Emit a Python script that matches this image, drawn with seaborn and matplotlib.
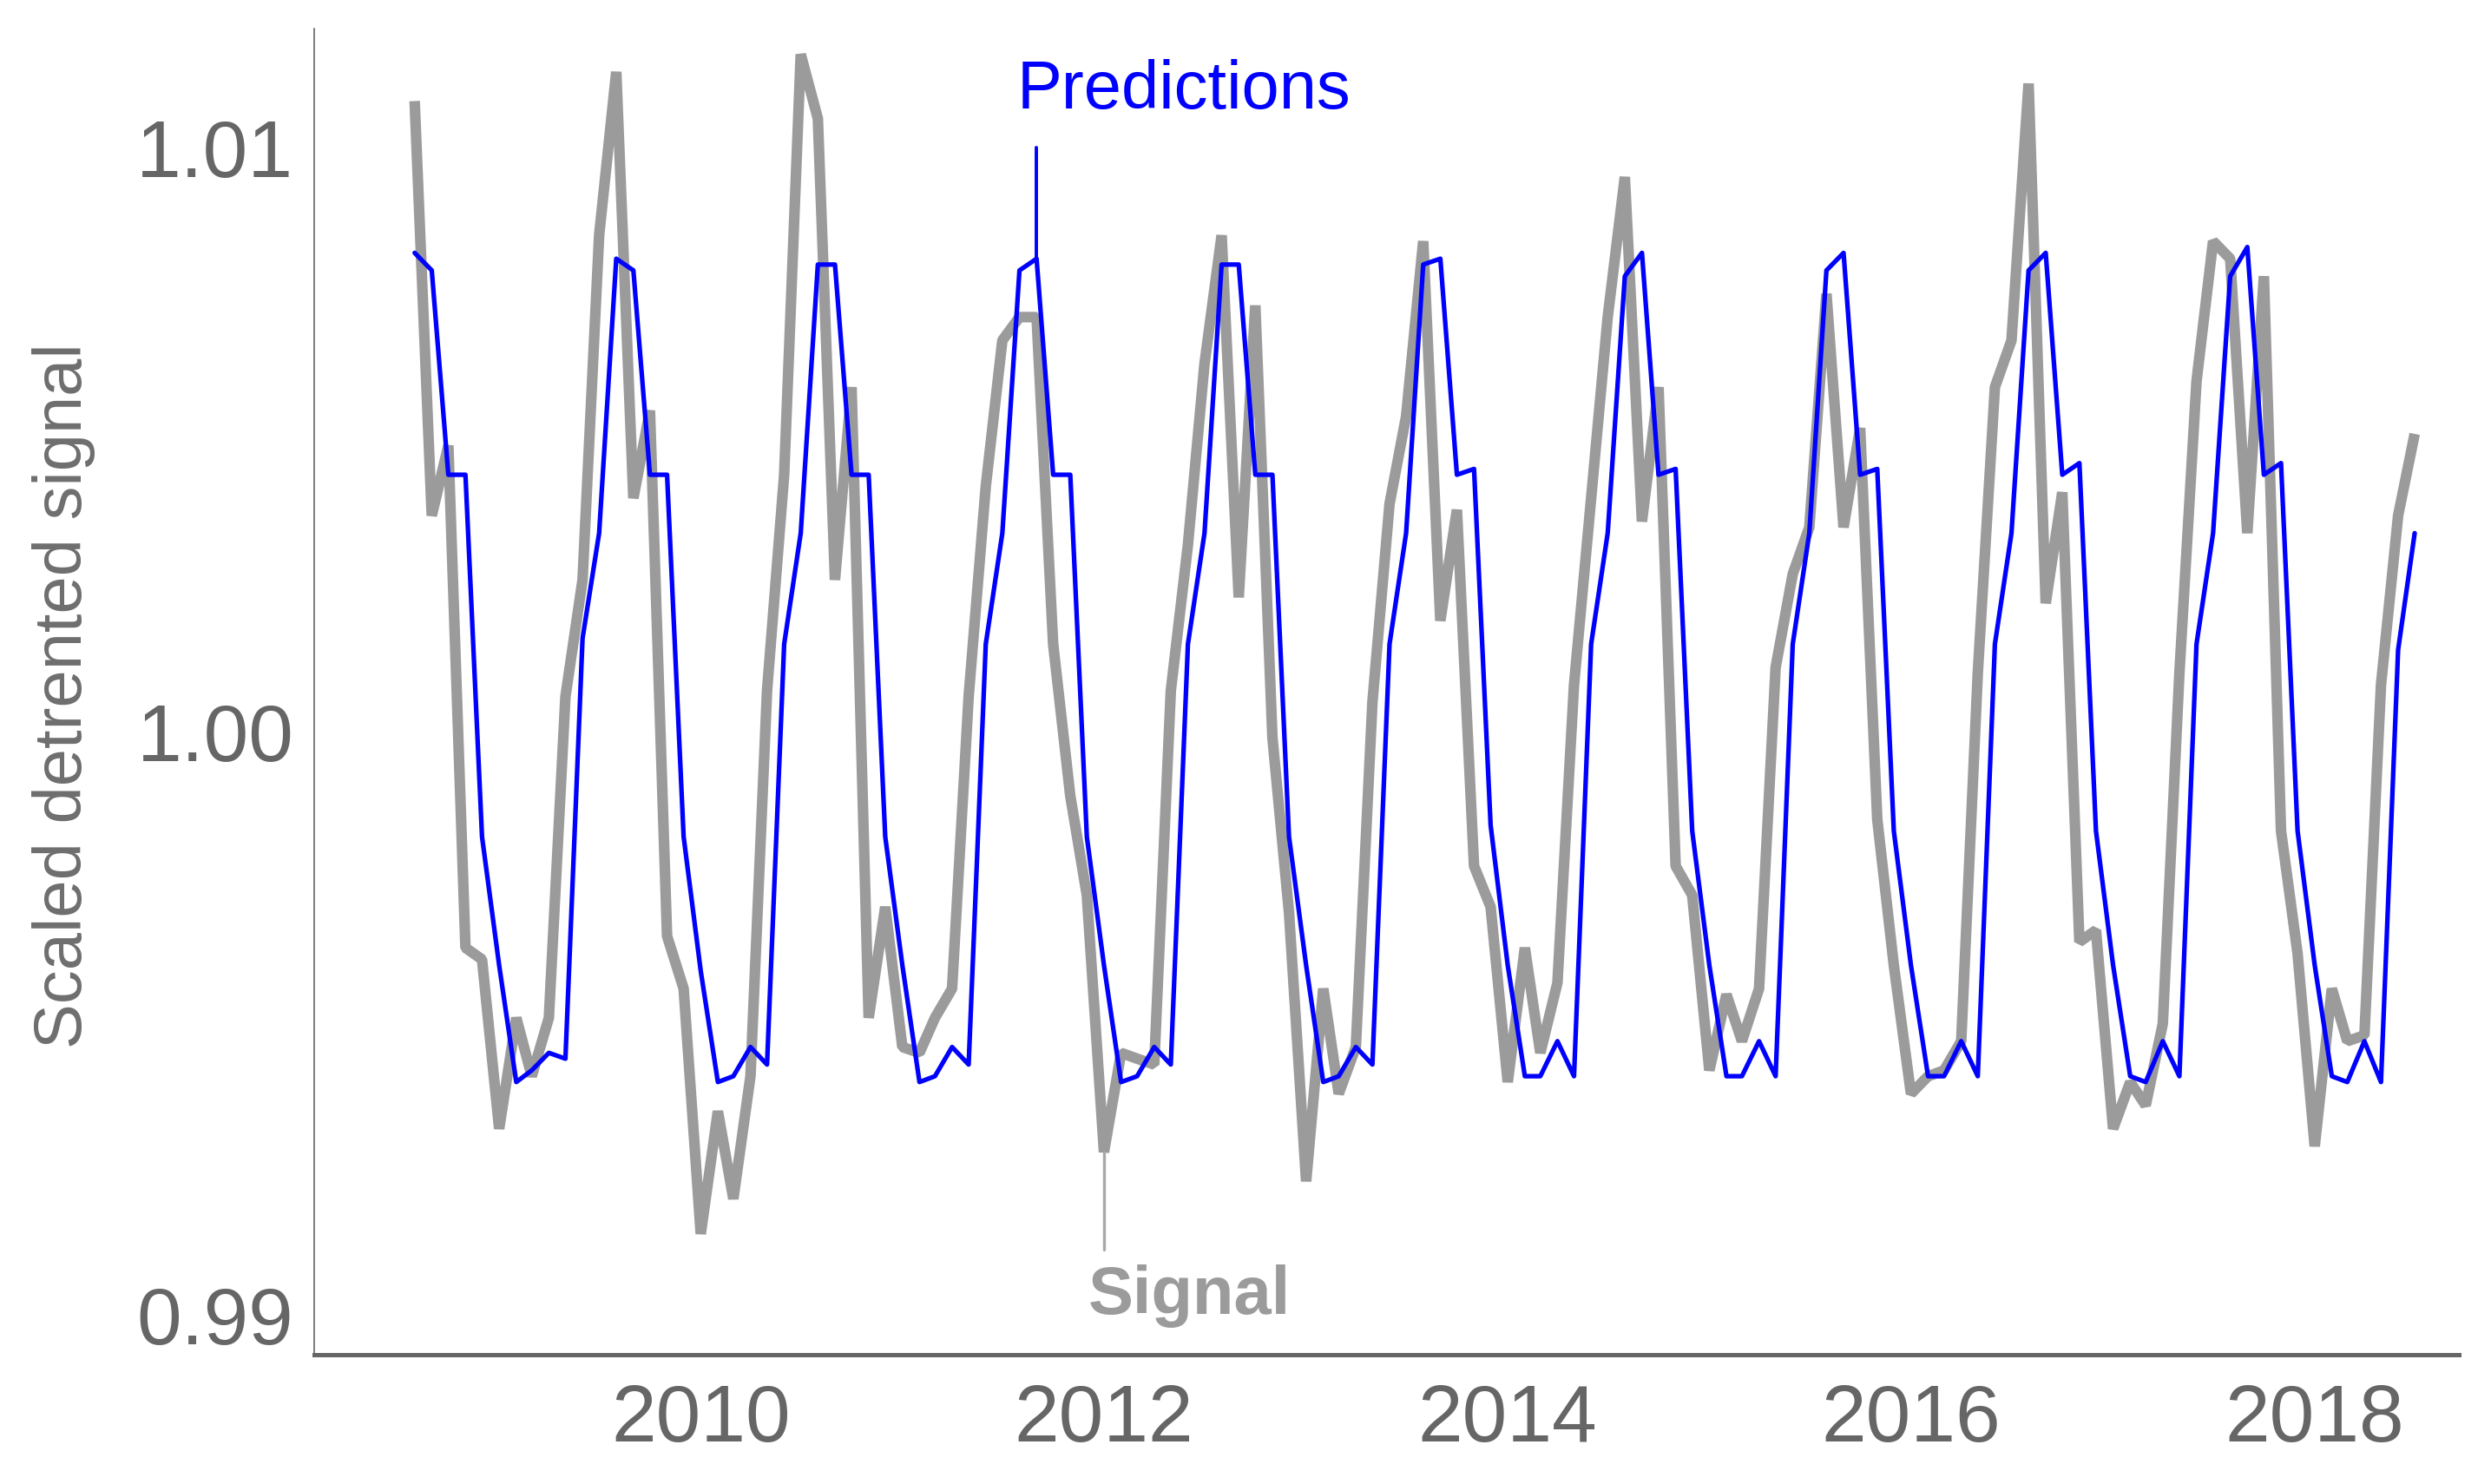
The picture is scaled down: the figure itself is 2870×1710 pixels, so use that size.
import numpy as np
import pandas as pd
import matplotlib
matplotlib.use("Agg")
import matplotlib.pyplot as plt
import matplotlib.dates as mdates
import seaborn as sns

# ---------------- data (monthly, Aug 2008 .. Jul 2018) ----------------
start_month = "2008-08-01"
n_months = 120

signal = [
    1.0108, 1.0037, 1.0049, 0.9963, 0.9961,                                              # 2008 Aug-Dec
    0.9932, 0.9951, 0.9941, 0.9951, 1.0006, 1.0026, 1.0085, 1.0113, 1.0040, 1.0055, 0.9965, 0.9956,  # 2009
    0.9914, 0.9935, 0.9920, 0.9941, 1.0007, 1.0044, 1.0116, 1.0105, 1.0026, 1.0059, 0.9951, 0.9970,  # 2010
    0.9946, 0.9945, 0.9951, 0.9956, 1.0006, 1.0042, 1.0067, 1.0071, 1.0071, 1.0015, 0.9989, 0.9972,  # 2011
    0.9928, 0.9945, 0.9944, 0.9943, 1.0007, 1.0032, 1.0063, 1.0085, 1.0023, 1.0073, 0.9999, 0.9969,  # 2012
    0.9923, 0.9956, 0.9938, 0.9946, 1.0005, 1.0039, 1.0054, 1.0084, 1.0019, 1.0038, 0.9977, 0.9970,  # 2013
    0.9940, 0.9963, 0.9945, 0.9957, 1.0008, 1.0040, 1.0071, 1.0095, 1.0036, 1.0059, 0.9977, 0.9972,  # 2014
    0.9942, 0.9955, 0.9947, 0.9956, 1.0011, 1.0027, 1.0035, 1.0075, 1.0035, 1.0052, 0.9985, 0.9960,  # 2015
    0.9938, 0.9941, 0.9942, 0.9947, 1.0010, 1.0059, 1.0067, 1.0111, 1.0022, 1.0041, 0.9964, 0.9966,  # 2016
    0.9932, 0.9940, 0.9936, 0.9950, 1.0010, 1.0060, 1.0084, 1.0081, 1.0034, 1.0078, 0.9983, 0.9962,  # 2017
    0.9929, 0.9956, 0.9947, 0.9948, 1.0008, 1.0037, 1.0051,                              # 2018 Jan-Jul
]

predictions = [
    1.0082, 1.0079, 1.0044, 1.0044, 0.9982,                                              # 2008 Aug-Dec
    0.9960, 0.9940, 0.9942, 0.9945, 0.9944, 1.0016, 1.0034, 1.0081, 1.0079, 1.0044, 1.0044, 0.9982,  # 2009
    0.9959, 0.9940, 0.9941, 0.9946, 0.9943, 1.0015, 1.0034, 1.0080, 1.0080, 1.0044, 1.0044, 0.9982,  # 2010
    0.9960, 0.9940, 0.9941, 0.9946, 0.9943, 1.0015, 1.0034, 1.0079, 1.0081, 1.0044, 1.0044, 0.9982,  # 2011
    0.9960, 0.9940, 0.9941, 0.9946, 0.9943, 1.0015, 1.0034, 1.0080, 1.0080, 1.0044, 1.0044, 0.9982,  # 2012
    0.9960, 0.9940, 0.9941, 0.9946, 0.9943, 1.0015, 1.0034, 1.0080, 1.0081, 1.0044, 1.0045, 0.9984,  # 2013
    0.9960, 0.9941, 0.9941, 0.9947, 0.9941, 1.0015, 1.0034, 1.0078, 1.0082, 1.0044, 1.0045, 0.9983,  # 2014
    0.9960, 0.9941, 0.9941, 0.9947, 0.9941, 1.0015, 1.0034, 1.0079, 1.0082, 1.0044, 1.0045, 0.9983,  # 2015
    0.9960, 0.9941, 0.9941, 0.9947, 0.9941, 1.0015, 1.0034, 1.0079, 1.0082, 1.0044, 1.0046, 0.9983,  # 2016
    0.9960, 0.9941, 0.9940, 0.9947, 0.9941, 1.0015, 1.0034, 1.0078, 1.0083, 1.0044, 1.0046, 0.9983,  # 2017
    0.9960, 0.9941, 0.9940, 0.9947, 0.9940, 1.0014, 1.0034,                              # 2018 Jan-Jul
]

y_ticks = [0.99, 1.00, 1.01]
y_tick_labels = ["0.99", "1.00", "1.01"]
label_pred = "Predictions"
label_sig = "Signal"
y_label = "Scaled detrented signal"

dates = pd.date_range(start_month, periods=n_months, freq="MS")
df = pd.DataFrame({"date": dates, "Signal": signal, "Predictions": predictions})

# ---------------- style ----------------
sns.set_style("white")
plt.rcParams["font.family"] = ["Liberation Sans", "DejaVu Sans"]

GRAY = "#9b9b9b"
BLUE = "#0000ff"
AXCOL = "#666666"

fig = plt.figure(figsize=(14.35, 8.55), dpi=200)
ax = fig.add_axes([0.1261, 0.0871, 0.8610, 0.8936])

sns.lineplot(data=df, x="date", y="Signal", color=GRAY, linewidth=4.4, ax=ax,
             solid_joinstyle="bevel", solid_capstyle="butt")
sns.lineplot(data=df, x="date", y="Predictions", color=BLUE, linewidth=1.9, ax=ax)

# annotation leader lines tied to data points
i_pred = 37   # Sep 2011 peak
i_sig = 41    # Jan 2012 trough
ax.plot([dates[i_pred], dates[i_pred]], [predictions[i_pred], 1.0100], color=BLUE, lw=1.4)
ax.plot([dates[i_sig], dates[i_sig]], [signal[i_sig], 0.99113], color="#a8a8a8", lw=1.2)

ax.text(pd.Timestamp("2011-07-27"), 1.01068, label_pred, color=BLUE, fontsize=28,
        ha="left", va="baseline")
ax.text(pd.Timestamp("2011-12-03"), 0.99003, label_sig, color=GRAY, fontsize=28,
        fontweight="bold", ha="left", va="baseline")

# ---------------- axes ----------------
ax.set_xlim(pd.Timestamp("2008-02-01"), pd.Timestamp("2018-09-19"))
ax.set_ylim(0.98933, 1.01204)

ax.xaxis.set_major_locator(mdates.YearLocator(2))
ax.xaxis.set_major_formatter(mdates.DateFormatter("%Y"))
ax.set_yticks(y_ticks)
ax.set_yticklabels(y_tick_labels)

ax.tick_params(axis="both", length=0, labelsize=33.5, labelcolor=AXCOL)
ax.tick_params(axis="x", pad=12)
ax.tick_params(axis="y", pad=8.5)

ax.set_xlabel("")
ax.set_ylabel(y_label, fontsize=28, color="#6e6e6e")
ax.yaxis.set_label_coords(-0.102, 0.497)

for s in ["top", "right"]:
    ax.spines[s].set_visible(False)
ax.spines["left"].set_color(AXCOL)
ax.spines["left"].set_linewidth(0.6)
ax.spines["bottom"].set_color(AXCOL)
ax.spines["bottom"].set_linewidth(1.8)

fig.savefig("out.png", dpi=200, facecolor="white")
